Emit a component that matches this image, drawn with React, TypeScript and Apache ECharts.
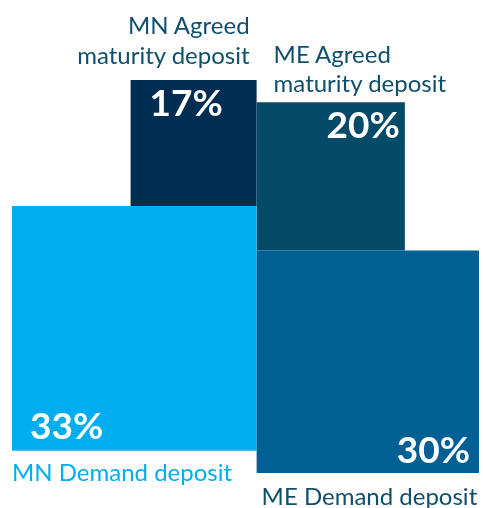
import React, { useEffect, useRef } from "react";
import * as echarts from "echarts";

// ---- data ----
const groups = ["MN", "ME"];
const agreedShares = [17, 20];
const demandShares = [33, 30];
const agreedLabels = ["MN Agreed\nmaturity deposit", "ME Agreed\nmaturity deposit"];
const demandLabels = ["MN Demand deposit", "ME Demand deposit"];

// ---- styles / placement (pixels relative to the drawn square) ----
const FONT = "Lato, 'Open Sans', sans-serif";
const styles: Record<string, any> = {
  "MN-agreed": {
    color: "#002D52",
    pct: { from: "left", dx: 19, fromY: "top", dy: 21 },
    label: { from: "right", dx: -7, fromY: "top", dy: -55.5, color: "#0F4F6B" },
  },
  "ME-agreed": {
    color: "#044B69",
    pct: { from: "right", dx: -5, fromY: "top", dy: 21.5 },
    label: { from: "left", dx: 17, fromY: "top", dy: -49, color: "#0F4F6B" },
  },
  "MN-demand": {
    color: "#00ADEE",
    pct: { from: "left", dx: 18, fromY: "bottom", dy: -26 },
    label: { from: "left", dx: 0, fromY: "bottom", dy: 21, color: "#00ADEE" },
  },
  "ME-demand": {
    color: "#006094",
    pct: { from: "right", dx: -9, fromY: "bottom", dy: -24.5 },
    label: { from: "left", dx: 5, fromY: "bottom", dy: 22, color: "#0F4F6B" },
  },
};

type Item = { key: string; x0: number; y0: number; size: number; label: string };

function buildItems(): Item[] {
  const minDemand = Math.min(...demandShares);
  const agreed: Item[] = [];
  const demand: Item[] = [];
  groups.forEach((g, i) => {
    const left = i === 0;
    const bottom = demandShares[i] - minDemand;
    const dSize = demandShares[i];
    const aSize = agreedShares[i];
    demand.push({ key: g + "-demand", x0: left ? -dSize : 0, y0: bottom, size: dSize, label: demandLabels[i] });
    agreed.push({ key: g + "-agreed", x0: left ? -aSize : 0, y0: bottom + dSize, size: aSize, label: agreedLabels[i] });
  });
  return [...agreed, ...demand];
}

export default function App() {
  const ref = useRef<HTMLDivElement>(null);
  useEffect(() => {
    if (!ref.current) return;
    const chart = echarts.init(ref.current, undefined, { renderer: "svg" });
    const items = buildItems();
    const yMax = Math.max(...items.map((it) => it.y0 + it.size));
    const data = items.map((it, i) => [it.x0, it.y0, it.size, i]);

    chart.setOption({
      animation: false,
      grid: { left: 12, right: 4, top: 80, bottom: 35 },
      xAxis: { type: "value", min: -demandShares[0], max: demandShares[1], show: false },
      yAxis: { type: "value", min: 0, max: yMax, show: false },
      series: [
        {
          type: "custom",
          coordinateSystem: "cartesian2d",
          clip: false,
          data,
          renderItem: (params: any, api: any) => {
            const x0 = api.value(0);
            const y0 = api.value(1);
            const s = api.value(2);
            const it = items[api.value(3)];
            const st = styles[it.key];
            const tl = api.coord([x0, y0 + s]);
            const br = api.coord([x0 + s, y0]);
            const rect = { left: tl[0], top: tl[1], right: br[0], bottom: br[1] };
            const px = (cfg: any) => (cfg.from === "left" ? rect.left : rect.right) + cfg.dx;
            const py = (cfg: any) => (cfg.fromY === "top" ? rect.top : rect.bottom) + cfg.dy;
            const children: any[] = [
              {
                type: "rect",
                shape: { x: rect.left, y: rect.top, width: rect.right - rect.left, height: rect.bottom - rect.top },
                style: { fill: st.color },
              },
              {
                type: "text",
                x: px(st.pct),
                y: py(st.pct),
                style: {
                  text: s + "%",
                  fill: "#ffffff",
                  fontFamily: FONT,
                  fontWeight: "bold",
                  fontSize: 37,
                  align: st.pct.from === "left" ? "left" : "right",
                  verticalAlign: "middle",
                },
              },
            ];
            const lines = it.label.split("\n");
            lines.forEach((ln, li) => {
              children.push({
                type: "text",
                x: px(st.label),
                y: py(st.label) + li * 29.5,
                style: {
                  text: ln,
                  fill: st.label.color,
                  fontFamily: FONT,
                  fontSize: 24,
                  align: st.label.dx < 0 ? "right" : "left",
                  verticalAlign: "middle",
                },
              });
            });
            return { type: "group", children };
          },
        },
      ],
    });
    return () => chart.dispose();
  }, []);
  return <div ref={ref} style={{ position: "fixed", left: 0, top: 0, width: 483, height: 508 }} />;
}
